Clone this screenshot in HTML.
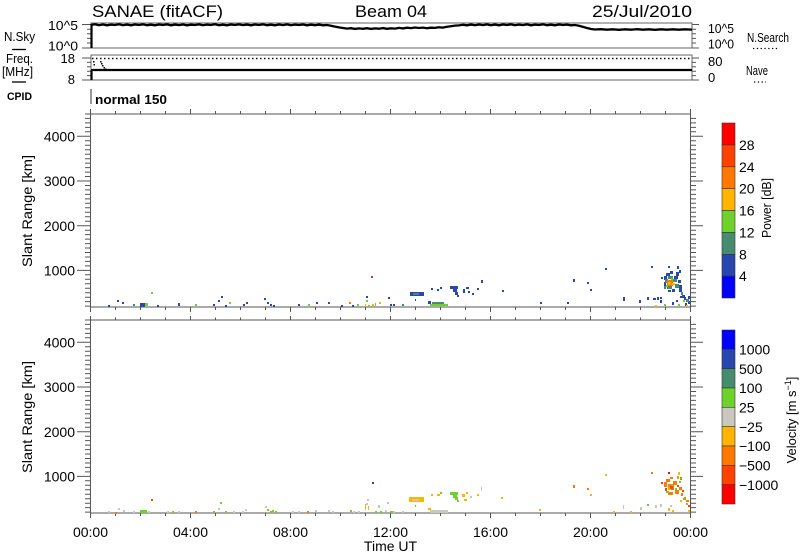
<!DOCTYPE html>
<html>
<head>
<meta charset="utf-8">
<style>
html,body{margin:0;padding:0;background:#fff;}
svg{display:block;}
text{font-family:"Liberation Sans",Arial,sans-serif;fill:#000;}
</style>
</head>
<body>
<svg xmlns="http://www.w3.org/2000/svg" width="800" height="554" viewBox="0 0 800 554">
<rect width="800" height="554" fill="#fff"/>

<!-- Header -->
<text x="92" y="17" font-size="17" textLength="131" lengthAdjust="spacingAndGlyphs">SANAE (fitACF)</text>
<text x="355" y="17" font-size="17" textLength="72" lengthAdjust="spacingAndGlyphs">Beam 04</text>
<text x="592" y="17" font-size="17" textLength="100" lengthAdjust="spacingAndGlyphs">25/Jul/2010</text>

<!-- Left labels top -->
<text x="4" y="41" font-size="13" textLength="31" lengthAdjust="spacingAndGlyphs">N.Sky</text>
<line x1="12" y1="49.5" x2="26" y2="49.5" stroke="#000" stroke-width="1.3"/>
<text x="6" y="63" font-size="13" textLength="27" lengthAdjust="spacingAndGlyphs">Freq.</text>
<text x="2" y="76" font-size="13" textLength="31" lengthAdjust="spacingAndGlyphs">[MHz]</text>
<line x1="12" y1="82" x2="26" y2="82" stroke="#000" stroke-width="1.3"/>
<text x="7" y="100" font-size="11" font-weight="bold" textLength="25" lengthAdjust="spacingAndGlyphs">CPID</text>

<!-- N.Sky panel -->
<rect x="91" y="23" width="601" height="25" fill="none" stroke="#666" stroke-width="1"/>
<path d="M82 24.5H91M82 48H91M87 29.2H91M87 33.8H91M87 38.4H91M87 43H91" stroke="#555" stroke-width="1" fill="none"/>
<path d="M692 24.5H699M692 48H699M692 29.2H696M692 33.8H696M692 38.4H696M692 43H696" stroke="#555" stroke-width="1" fill="none"/>
<text x="78" y="30" font-size="13" text-anchor="end" textLength="30" lengthAdjust="spacingAndGlyphs">10^5</text>
<text x="78" y="50.5" font-size="13" text-anchor="end" textLength="30" lengthAdjust="spacingAndGlyphs">10^0</text>
<text x="708" y="33" font-size="13" textLength="26" lengthAdjust="spacingAndGlyphs">10^5</text>
<text x="708" y="48.5" font-size="13" textLength="26" lengthAdjust="spacingAndGlyphs">10^0</text>
<text x="747" y="42" font-size="13" textLength="42" lengthAdjust="spacingAndGlyphs">N.Search</text>
<line x1="753" y1="48.5" x2="779" y2="48.5" stroke="#000" stroke-width="1.3" stroke-dasharray="1.3,2.5"/>
<line x1="91.5" y1="24" x2="91.5" y2="48" stroke="#000" stroke-width="2.2"/>
<polyline fill="none" stroke="#000" stroke-width="2.3" points="91,25 95,24.3 99,25.2 103,24.5 107,25.3 111,24.6 115,25 119,24.3 123,25.2 127,24.6 131,25.3 135,24.5 139,25 143,24.4 147,25.2 151,24.7 155,25.3 159,24.5 163,25 167,24.4 171,25.3 175,24.6 179,25.1 183,24.5 187,25.3 191,24.7 195,25 199,24.4 203,25.2 207,24.6 211,25 215,24.3 219,25.2 223,24.7 227,25.3 231,24.5 235,25 239,24.4 243,25.1 247,24.6 251,25.3 255,24.5 259,25 263,24.4 267,25.2 271,24.7 275,25.3 279,24.5 283,25.1 287,24.4 291,25.2 295,24.6 299,25 303,24.5 307,25.3 311,24.7 315,25.2 319,24.6 323,25.3 327,25 331,25.8 335,26.6 339,27.4 343,28 347,28.6 351,28.2 355,28.9 359,28.4 363,28.8 367,28.2 371,28.9 375,28.4 379,28.7 383,28.1 387,28.8 391,28.3 395,28.6 399,27.9 403,28.4 407,27.7 411,28.1 415,27.5 419,28 423,27.6 427,28.2 431,27.7 435,27.9 439,27.3 443,27.6 447,26.8 451,26.2 455,25.6 459,25.4 463,24.8 467,25.3 471,24.6 475,25.2 479,24.5 483,25.1 487,24.4 491,25.2 495,24.6 499,25.3 503,24.5 507,25 511,24.4 515,25.2 519,24.6 523,25.1 527,24.4 531,25.3 535,24.6 539,25 543,24.4 547,25.2 551,24.7 555,25.3 559,24.5 563,25 567,24.6 571,25.3 575,25 579,25.8 583,26.9 587,28 591,29 595,29.5 601,29.2 607,29.7 613,29.3 619,29.8 625,29.3 631,29.7 637,29.2 643,29.7 649,29.3 655,29.8 661,29.3 667,29.7 673,29.3 679,29.7 685,29.3 692,29.6"/>

<!-- Freq panel -->
<rect x="91" y="55" width="601" height="25" fill="none" stroke="#666" stroke-width="1"/>
<path d="M82 58H91M82 80H91M87 62.4H91M87 66.8H91M87 71.2H91M87 75.6H91" stroke="#555" stroke-width="1" fill="none"/>
<path d="M692 58H699M692 80H699M692 62.4H696M692 66.8H696M692 71.2H696M692 75.6H696" stroke="#555" stroke-width="1" fill="none"/>
<text x="75" y="63" font-size="13" text-anchor="end">18</text>
<text x="75" y="84" font-size="13" text-anchor="end">8</text>
<text x="708" y="66" font-size="13">80</text>
<text x="708" y="82" font-size="13">0</text>
<text x="746" y="75" font-size="13" textLength="22" lengthAdjust="spacingAndGlyphs">Nave</text>
<line x1="754" y1="82" x2="766" y2="82" stroke="#000" stroke-width="1.3" stroke-dasharray="1.3,2.5"/>
<line x1="92" y1="58.5" x2="692" y2="58.5" stroke="#000" stroke-width="1.5" stroke-dasharray="1.5,2.5"/>
<g fill="#000">
<rect x="93" y="61" width="1.5" height="1.5"/><rect x="93.5" y="64" width="1.5" height="1.5"/>
<rect x="100" y="61" width="1.5" height="1.5"/><rect x="101" y="63" width="1.5" height="1.5"/>
<rect x="102" y="65" width="1.5" height="1.5"/><rect x="103.5" y="67" width="1.5" height="1.5"/>
<rect x="105" y="68.5" width="1.5" height="1.5"/>
</g>
<line x1="91" y1="70" x2="692" y2="70" stroke="#000" stroke-width="2.2"/>
<line x1="91.5" y1="70" x2="91.5" y2="80" stroke="#000" stroke-width="2.2"/>

<!-- CPID -->
<line x1="91" y1="89" x2="91" y2="104" stroke="#333" stroke-width="1"/>
<text x="95" y="104" font-size="13" font-weight="bold" textLength="72" lengthAdjust="spacingAndGlyphs">normal 150</text>

<!-- Slant range panel frames (panel 1, then panel 2 translated) -->
<g id="frame1" stroke="#555" stroke-width="1" fill="none">
<rect x="90.5" y="114" width="600" height="193"/>
<path d="M77 270.4H90.5M77 225.7H90.5M77 181H90.5M77 136.3H90.5"/>
<path d="M690.5 270.4H703M690.5 225.7H703M690.5 181H703M690.5 136.3H703"/>
<path d="M85 306.1h5.5M85 301.6h5.5M85 297.2h5.5M85 292.7h5.5M85 288.2h5.5M85 283.8h5.5M85 279.3h5.5M85 274.8h5.5M85 265.9h5.5M85 261.4h5.5M85 257h5.5M85 252.5h5.5M85 248h5.5M85 243.6h5.5M85 239.1h5.5M85 234.6h5.5M85 230.2h5.5M85 221.2h5.5M85 216.8h5.5M85 212.3h5.5M85 207.8h5.5M85 203.3h5.5M85 198.9h5.5M85 194.4h5.5M85 189.9h5.5M85 185.5h5.5M85 176.5h5.5M85 172.1h5.5M85 167.6h5.5M85 163.1h5.5M85 158.7h5.5M85 154.2h5.5M85 149.7h5.5M85 145.3h5.5M85 140.8h5.5M85 131.8h5.5M85 127.4h5.5M85 122.9h5.5M85 118.4h5.5M85 114h5.5"/>
<path d="M690.5 306.1h5.5M690.5 301.6h5.5M690.5 297.2h5.5M690.5 292.7h5.5M690.5 288.2h5.5M690.5 283.8h5.5M690.5 279.3h5.5M690.5 274.8h5.5M690.5 265.9h5.5M690.5 261.4h5.5M690.5 257h5.5M690.5 252.5h5.5M690.5 248h5.5M690.5 243.6h5.5M690.5 239.1h5.5M690.5 234.6h5.5M690.5 230.2h5.5M690.5 221.2h5.5M690.5 216.8h5.5M690.5 212.3h5.5M690.5 207.8h5.5M690.5 203.3h5.5M690.5 198.9h5.5M690.5 194.4h5.5M690.5 189.9h5.5M690.5 185.5h5.5M690.5 176.5h5.5M690.5 172.1h5.5M690.5 167.6h5.5M690.5 163.1h5.5M690.5 158.7h5.5M690.5 154.2h5.5M690.5 149.7h5.5M690.5 145.3h5.5M690.5 140.8h5.5M690.5 131.8h5.5M690.5 127.4h5.5M690.5 122.9h5.5M690.5 118.4h5.5"/>
<path d="M90.5 307v5M190.5 307v5M290.5 307v5M390.5 307v5M490.5 307v5M590.5 307v5M690.5 307v5M115.5 307v3M140.5 307v3M165.5 307v3M215.5 307v3M240.5 307v3M265.5 307v3M315.5 307v3M340.5 307v3M365.5 307v3M415.5 307v3M440.5 307v3M465.5 307v3M515.5 307v3M540.5 307v3M565.5 307v3M615.5 307v3M640.5 307v3M665.5 307v3"/>
<path d="M90.5 114v-5M190.5 114v-5M290.5 114v-5M390.5 114v-5M490.5 114v-5M590.5 114v-5M690.5 114v-5M115.5 114v-3M140.5 114v-3M165.5 114v-3M215.5 114v-3M240.5 114v-3M265.5 114v-3M315.5 114v-3M340.5 114v-3M365.5 114v-3M415.5 114v-3M440.5 114v-3M465.5 114v-3M515.5 114v-3M540.5 114v-3M565.5 114v-3M615.5 114v-3M640.5 114v-3M665.5 114v-3"/>
</g>
<g transform="translate(0,206)" stroke="#555" stroke-width="1" fill="none">
<rect x="90.5" y="114" width="600" height="193"/>
<path d="M77 270.4H90.5M77 225.7H90.5M77 181H90.5M77 136.3H90.5"/>
<path d="M690.5 270.4H703M690.5 225.7H703M690.5 181H703M690.5 136.3H703"/>
<path d="M85 306.1h5.5M85 301.6h5.5M85 297.2h5.5M85 292.7h5.5M85 288.2h5.5M85 283.8h5.5M85 279.3h5.5M85 274.8h5.5M85 265.9h5.5M85 261.4h5.5M85 257h5.5M85 252.5h5.5M85 248h5.5M85 243.6h5.5M85 239.1h5.5M85 234.6h5.5M85 230.2h5.5M85 221.2h5.5M85 216.8h5.5M85 212.3h5.5M85 207.8h5.5M85 203.3h5.5M85 198.9h5.5M85 194.4h5.5M85 189.9h5.5M85 185.5h5.5M85 176.5h5.5M85 172.1h5.5M85 167.6h5.5M85 163.1h5.5M85 158.7h5.5M85 154.2h5.5M85 149.7h5.5M85 145.3h5.5M85 140.8h5.5M85 131.8h5.5M85 127.4h5.5M85 122.9h5.5M85 118.4h5.5M85 114h5.5"/>
<path d="M690.5 306.1h5.5M690.5 301.6h5.5M690.5 297.2h5.5M690.5 292.7h5.5M690.5 288.2h5.5M690.5 283.8h5.5M690.5 279.3h5.5M690.5 274.8h5.5M690.5 265.9h5.5M690.5 261.4h5.5M690.5 257h5.5M690.5 252.5h5.5M690.5 248h5.5M690.5 243.6h5.5M690.5 239.1h5.5M690.5 234.6h5.5M690.5 230.2h5.5M690.5 221.2h5.5M690.5 216.8h5.5M690.5 212.3h5.5M690.5 207.8h5.5M690.5 203.3h5.5M690.5 198.9h5.5M690.5 194.4h5.5M690.5 189.9h5.5M690.5 185.5h5.5M690.5 176.5h5.5M690.5 172.1h5.5M690.5 167.6h5.5M690.5 163.1h5.5M690.5 158.7h5.5M690.5 154.2h5.5M690.5 149.7h5.5M690.5 145.3h5.5M690.5 140.8h5.5M690.5 131.8h5.5M690.5 127.4h5.5M690.5 122.9h5.5M690.5 118.4h5.5"/>
<path d="M90.5 307v5M190.5 307v5M290.5 307v5M390.5 307v5M490.5 307v5M590.5 307v5M690.5 307v5M115.5 307v3M140.5 307v3M165.5 307v3M215.5 307v3M240.5 307v3M265.5 307v3M315.5 307v3M340.5 307v3M365.5 307v3M415.5 307v3M440.5 307v3M465.5 307v3M515.5 307v3M540.5 307v3M565.5 307v3M615.5 307v3M640.5 307v3M665.5 307v3"/>
<path d="M90.5 114v-4M190.5 114v-4M290.5 114v-4M390.5 114v-4M490.5 114v-4M590.5 114v-4M690.5 114v-4M115.5 114v-2.5M140.5 114v-2.5M165.5 114v-2.5M215.5 114v-2.5M240.5 114v-2.5M265.5 114v-2.5M315.5 114v-2.5M340.5 114v-2.5M365.5 114v-2.5M415.5 114v-2.5M440.5 114v-2.5M465.5 114v-2.5M515.5 114v-2.5M540.5 114v-2.5M565.5 114v-2.5M615.5 114v-2.5M640.5 114v-2.5M665.5 114v-2.5"/>
</g>

<!-- Y tick labels -->
<g font-size="14" text-anchor="end">
<text x="75" y="275.5">1000</text>
<text x="75" y="230.8">2000</text>
<text x="75" y="186.1">3000</text>
<text x="75" y="141.4">4000</text>
<text x="75" y="481.5">1000</text>
<text x="75" y="436.8">2000</text>
<text x="75" y="392.1">3000</text>
<text x="75" y="347.4">4000</text>
</g>
<text transform="translate(32,211) rotate(-90)" font-size="14" text-anchor="middle" textLength="112" lengthAdjust="spacingAndGlyphs">Slant Range [km]</text>
<text transform="translate(32,417) rotate(-90)" font-size="14" text-anchor="middle" textLength="112" lengthAdjust="spacingAndGlyphs">Slant Range [km]</text>

<!-- Time labels -->
<g font-size="14" text-anchor="middle">
<text x="90.5" y="537">00:00</text>
<text x="190.5" y="537">04:00</text>
<text x="290.5" y="537">08:00</text>
<text x="390.5" y="537">12:00</text>
<text x="490.5" y="537">16:00</text>
<text x="590.5" y="537">20:00</text>
<text x="690.5" y="537">00:00</text>
<text x="390.5" y="551">Time UT</text>
</g>

<!-- Power colorbar -->
<g stroke="#333" stroke-width="0.6">
<rect x="722" y="123" width="13" height="21.9" fill="#ff0000"/>
<rect x="722" y="144.9" width="13" height="21.9" fill="#ff4200"/>
<rect x="722" y="166.8" width="13" height="21.9" fill="#ff7800"/>
<rect x="722" y="188.6" width="13" height="21.9" fill="#ffb400"/>
<rect x="722" y="210.5" width="13" height="21.9" fill="#6ed22a"/>
<rect x="722" y="232.4" width="13" height="21.9" fill="#468c6e"/>
<rect x="722" y="254.3" width="13" height="21.9" fill="#2846b0"/>
<rect x="722" y="276.1" width="13" height="21.9" fill="#0000ff"/>
</g>
<g font-size="14">
<text x="739" y="150">28</text>
<text x="739" y="171.8">24</text>
<text x="739" y="193.6">20</text>
<text x="739" y="215.5">16</text>
<text x="739" y="237.4">12</text>
<text x="739" y="259.3">8</text>
<text x="739" y="281.1">4</text>
</g>
<text transform="translate(771,208) rotate(-90)" font-size="13" text-anchor="middle" textLength="60" lengthAdjust="spacingAndGlyphs">Power [dB]</text>

<!-- Velocity colorbar -->
<g stroke="#333" stroke-width="0.6">
<rect x="722" y="330" width="13" height="19.3" fill="#0000ff"/>
<rect x="722" y="349.3" width="13" height="19.4" fill="#2846b0"/>
<rect x="722" y="368.7" width="13" height="19.3" fill="#468c6e"/>
<rect x="722" y="388" width="13" height="19.3" fill="#6ed22a"/>
<rect x="722" y="407.3" width="13" height="19.4" fill="#c8c8be"/>
<rect x="722" y="426.7" width="13" height="19.3" fill="#ffb400"/>
<rect x="722" y="446" width="13" height="19.3" fill="#ff7800"/>
<rect x="722" y="465.3" width="13" height="19.4" fill="#ff4200"/>
<rect x="722" y="484.7" width="13" height="19.3" fill="#ff0000"/>
</g>
<g font-size="14">
<text x="739" y="354.4">1000</text>
<text x="739" y="373.8">500</text>
<text x="739" y="393.1">100</text>
<text x="739" y="412.4">25</text>
<text x="739" y="431.8">−25</text>
<text x="739" y="451.1">−100</text>
<text x="739" y="470.4">−500</text>
<text x="739" y="489.8">−1000</text>
</g>
<text transform="translate(796,420) rotate(-90)" font-size="13" text-anchor="middle">Velocity [m s<tspan font-size="9" dy="-5">−1</tspan><tspan dy="5">]</tspan></text>

<!-- Panel 1 data (power) -->
<g fill="#2848b0">
<rect x="108" y="305" width="2" height="2"/><rect x="117" y="300" width="2" height="2"/><rect x="122" y="302" width="2" height="2"/>
<rect x="140" y="303" width="5" height="4"/><rect x="157" y="305" width="2" height="2"/><rect x="178" y="303" width="2" height="3"/>
<rect x="213" y="304" width="2" height="2"/><rect x="218" y="300" width="2" height="2"/><rect x="221" y="296" width="2" height="2"/>
<rect x="225" y="305" width="2" height="2"/><rect x="243" y="304" width="2" height="2"/><rect x="246" y="302" width="2" height="2"/>
<rect x="264" y="298" width="2" height="2"/><rect x="267" y="302" width="2" height="2"/><rect x="270" y="304" width="2" height="2"/>
<rect x="273" y="305" width="2" height="2"/><rect x="298" y="304" width="2" height="2"/><rect x="316" y="302" width="2" height="2"/>
<rect x="328" y="302" width="2" height="2"/><rect x="341" y="305" width="2" height="2"/><rect x="352" y="305" width="2" height="2"/>
<rect x="366" y="296" width="2" height="2"/><rect x="388" y="297" width="2" height="2"/><rect x="390" y="304" width="2" height="2"/>
<rect x="393" y="304" width="2" height="2"/><rect x="410" y="292" width="14" height="4"/><rect x="415" y="299" width="1" height="2"/>
<rect x="428" y="301" width="3" height="3"/><rect x="431" y="288" width="2" height="2"/><rect x="437" y="289" width="2" height="2"/>
<rect x="440" y="287" width="2" height="2"/><rect x="450" y="286" width="8" height="3"/><rect x="453" y="289" width="4" height="3"/>
<rect x="455" y="292" width="3" height="3"/><rect x="457" y="295" width="2" height="2"/><rect x="463" y="289" width="2" height="4"/>
<rect x="466" y="287" width="3" height="2"/><rect x="468" y="291" width="2" height="2"/><rect x="472" y="293" width="2" height="2"/>
<rect x="477" y="288" width="2" height="2"/><rect x="481" y="280" width="2" height="3"/><rect x="502" y="290" width="2" height="2"/>
<rect x="540" y="302" width="2" height="2"/><rect x="567" y="302" width="2" height="2"/><rect x="573" y="279" width="2" height="3"/>
<rect x="587" y="282" width="2" height="2"/><rect x="590" y="289" width="2" height="2"/><rect x="605" y="268" width="2" height="2"/>
<rect x="623" y="297" width="2" height="4"/><rect x="639" y="300" width="2" height="3"/><rect x="647" y="297" width="2" height="3"/>
<rect x="651" y="266" width="2" height="2"/><rect x="653" y="298" width="3" height="2"/><rect x="657" y="297" width="2" height="3"/>
<rect x="660" y="297" width="2" height="2"/><rect x="661" y="277" width="2" height="2"/><rect x="668" y="266" width="2" height="2"/>
<rect x="664" y="276" width="3" height="4"/><rect x="664" y="282" width="2" height="6"/><rect x="666" y="273" width="4" height="3"/>
<rect x="670" y="271" width="3" height="3"/><rect x="676" y="272" width="3" height="4"/><rect x="677" y="266" width="2" height="3"/>
<rect x="679" y="270" width="2" height="3"/><rect x="674" y="276" width="4" height="3"/><rect x="678" y="280" width="3" height="3"/>
<rect x="679" y="285" width="3" height="4"/><rect x="672" y="289" width="3" height="3"/><rect x="668" y="290" width="3" height="2"/>
<rect x="679" y="289" width="3" height="3"/><rect x="682" y="295" width="3" height="3"/><rect x="684" y="297" width="2" height="3"/>
<rect x="688" y="301" width="2" height="3"/><rect x="680" y="296" width="2" height="2"/><rect x="685" y="303" width="2" height="3"/>
<rect x="688" y="296" width="2" height="3"/><rect x="660" y="300" width="2" height="3"/><rect x="672" y="302" width="2" height="3"/>
<rect x="676" y="300" width="2" height="2"/>
</g>
<g fill="#468c6e">
<rect x="133" y="304" width="2" height="2"/><rect x="402" y="304" width="2" height="2"/><rect x="413" y="293" width="6" height="2"/>
<rect x="432" y="302" width="12" height="2"/><rect x="665" y="279" width="3" height="4"/><rect x="668" y="276" width="5" height="3"/>
<rect x="673" y="279" width="4" height="3"/><rect x="675" y="284" width="4" height="4"/><rect x="667" y="286" width="5" height="3"/>
<rect x="664" y="286" width="2" height="3"/><rect x="681" y="292" width="2" height="3"/><rect x="686" y="299" width="3" height="3"/>
</g>
<g fill="#6ed22a">
<rect x="145" y="303" width="3" height="3"/><rect x="151" y="292" width="2" height="2"/><rect x="195" y="304" width="2" height="2"/>
<rect x="229" y="302" width="2" height="2"/><rect x="308" y="304" width="2" height="2"/><rect x="357" y="304" width="2" height="2"/>
<rect x="366" y="300" width="2" height="2"/><rect x="368" y="305" width="2" height="2"/><rect x="375" y="303" width="1" height="3"/>
<rect x="430" y="304" width="18" height="2"/><rect x="671" y="278" width="2" height="2"/><rect x="666" y="285" width="2" height="2"/>
<rect x="683" y="300" width="2" height="2"/><rect x="664" y="304" width="2" height="2"/><rect x="678" y="304" width="2" height="2"/>
</g>
<g fill="#ff7800">
<rect x="349" y="302" width="2" height="2"/><rect x="667" y="280" width="6" height="6"/>
</g>
<g fill="#ffb400">
<rect x="365" y="304" width="1" height="3"/><rect x="372" y="304" width="2" height="2"/><rect x="379" y="302" width="2" height="2"/>
<rect x="668" y="282" width="3" height="3"/><rect x="672" y="283" width="3" height="2"/><rect x="655" y="305" width="2" height="2"/>
<rect x="686" y="305" width="2" height="2"/>
</g>
<rect x="371" y="276" width="2" height="2" fill="#e03030"/>

<!-- Panel 2 data (velocity) -->
<g fill="#c8c8be">
<rect x="108" y="511" width="2" height="2"/><rect x="118" y="508" width="2" height="2"/><rect x="123" y="510" width="2" height="2"/>
<rect x="133" y="511" width="2" height="2"/><rect x="148" y="511" width="2" height="2"/><rect x="167" y="511" width="2" height="2"/>
<rect x="178" y="511" width="2" height="2"/><rect x="218" y="508" width="2" height="2"/><rect x="233" y="511" width="2" height="2"/>
<rect x="242" y="511" width="2" height="2"/><rect x="245" y="509" width="2" height="2"/><rect x="265" y="506" width="2" height="2"/>
<rect x="292" y="511" width="2" height="2"/><rect x="298" y="511" width="2" height="2"/><rect x="315" y="510" width="2" height="2"/>
<rect x="328" y="510" width="2" height="2"/><rect x="332" y="511" width="2" height="2"/><rect x="353" y="511" width="2" height="2"/>
<rect x="358" y="511" width="2" height="2"/><rect x="366" y="503" width="2" height="2"/><rect x="367" y="499" width="2" height="2"/>
<rect x="378" y="505" width="2" height="3"/><rect x="385" y="510" width="2" height="2"/><rect x="387" y="502" width="2" height="2"/>
<rect x="393" y="511" width="2" height="2"/><rect x="402" y="511" width="2" height="2"/>
<rect x="430" y="510" width="18" height="3"/><rect x="470" y="496" width="2" height="2"/><rect x="481" y="487" width="1" height="4"/>
<rect x="623" y="505" width="1" height="4"/><rect x="640" y="507" width="2" height="3"/><rect x="655" y="505" width="2" height="3"/>
<rect x="660" y="504" width="2" height="3"/><rect x="670" y="505" width="2" height="2"/>
</g>
<g fill="#ffb400">
<rect x="365" y="504" width="1" height="6"/><rect x="368" y="506" width="1" height="4"/><rect x="409" y="497" width="15" height="5"/>
<rect x="428" y="508" width="3" height="2"/><rect x="431" y="494" width="2" height="2"/><rect x="437" y="494" width="3" height="2"/>
<rect x="462" y="494" width="3" height="3"/><rect x="466" y="492" width="2" height="2"/><rect x="464" y="499" width="3" height="2"/>
<rect x="477" y="494" width="2" height="2"/><rect x="501" y="497" width="2" height="2"/><rect x="539" y="509" width="2" height="2"/>
<rect x="590" y="494" width="2" height="2"/><rect x="605" y="474" width="2" height="2"/><rect x="613" y="511" width="2" height="2"/>
<rect x="630" y="511" width="2" height="2"/><rect x="668" y="508" width="2" height="3"/><rect x="672" y="510" width="2" height="2"/>
<rect x="688" y="510" width="2" height="2"/>
</g>
<rect x="412" y="499" width="7" height="2" fill="#c8c8be"/>
<g fill="#ff7800">
<rect x="115" y="512" width="2" height="2"/><rect x="195" y="511" width="2" height="2"/><rect x="307" y="511" width="2" height="2"/>
<rect x="573" y="485" width="2" height="3"/><rect x="587" y="488" width="2" height="2"/><rect x="651" y="472" width="2" height="2"/>
<rect x="664" y="482" width="3" height="5"/><rect x="666" y="479" width="4" height="3"/><rect x="668" y="484" width="6" height="6"/>
<rect x="673" y="481" width="4" height="4"/><rect x="675" y="490" width="4" height="4"/><rect x="668" y="492" width="5" height="3"/>
<rect x="679" y="487" width="3" height="3"/><rect x="681" y="493" width="2" height="3"/><rect x="684" y="497" width="2" height="3"/>
<rect x="686" y="500" width="3" height="2"/><rect x="680" y="477" width="2" height="3"/><rect x="670" y="477" width="3" height="2"/>
</g>
<g fill="#6ed22a">
<rect x="140" y="510" width="7" height="3"/><rect x="172" y="511" width="2" height="2"/><rect x="213" y="511" width="2" height="2"/>
<rect x="220" y="502" width="2" height="2"/><rect x="225" y="511" width="2" height="2"/><rect x="267" y="509" width="2" height="2"/>
<rect x="270" y="511" width="2" height="2"/><rect x="272" y="510" width="2" height="2"/><rect x="275" y="511" width="2" height="2"/>
<rect x="350" y="510" width="2" height="2"/><rect x="375" y="511" width="2" height="2"/><rect x="380" y="511" width="2" height="2"/>
<rect x="390" y="511" width="3" height="2"/><rect x="415" y="505" width="1" height="2"/><rect x="440" y="492" width="2" height="2"/>
<rect x="450" y="492" width="8" height="3"/><rect x="453" y="495" width="4" height="3"/><rect x="455" y="497" width="3" height="3"/>
<rect x="457" y="500" width="2" height="2"/><rect x="647" y="504" width="2" height="2"/><rect x="671" y="484" width="2" height="3"/>
<rect x="666" y="491" width="3" height="2"/><rect x="677" y="476" width="2" height="3"/><rect x="679" y="481" width="2" height="2"/>
<rect x="683" y="498" width="2" height="2"/><rect x="686" y="503" width="2" height="2"/><rect x="675" y="488" width="2" height="2"/>
</g>
<g fill="#ffb400">
<rect x="678" y="472" width="2" height="3"/><rect x="668" y="487" width="3" height="3"/><rect x="680" y="500" width="2" height="2"/>
</g>
<g fill="#ff4200">
<rect x="151" y="499" width="2" height="2"/><rect x="661" y="482" width="2" height="2"/><rect x="670" y="486" width="3" height="3"/>
<rect x="665" y="488" width="2" height="3"/><rect x="677" y="485" width="2" height="2"/><rect x="682" y="490" width="2" height="2"/>
<rect x="688" y="505" width="2" height="2"/>
</g>
<rect x="668" y="472" width="2" height="2" fill="#ff0000"/>
<rect x="372" y="482" width="2" height="2" fill="#2848b0"/>
</svg>
</body>
</html>
